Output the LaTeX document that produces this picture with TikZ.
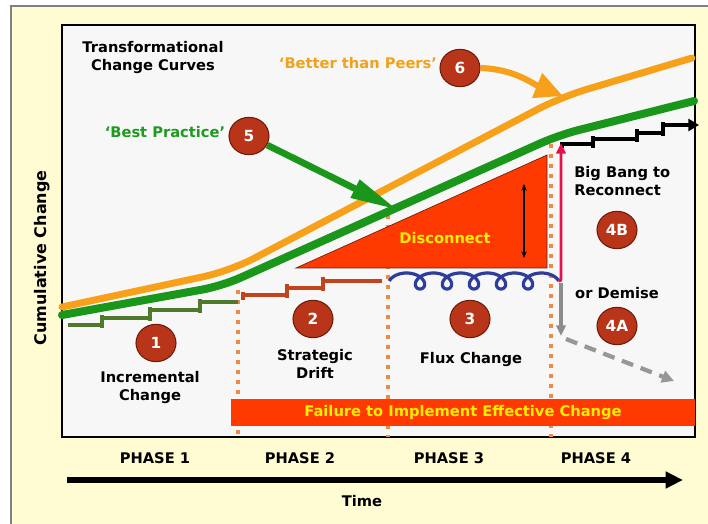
\documentclass[tikz,border=0pt]{standalone}
\usepackage{fontspec}
\setmainfont{DejaVu Sans}
\usetikzlibrary{arrows.meta,shapes.geometric}
\definecolor{bgyellow}{HTML}{FFFBD2}
\definecolor{plotbg}{HTML}{F7F7F8}
\definecolor{orangecurve}{HTML}{F7A11A}
\definecolor{greencurve}{HTML}{1A961A}
\definecolor{olivestep}{HTML}{4F7A2B}
\definecolor{ruststep}{HTML}{C2431C}
\definecolor{phasedot}{HTML}{EE8A45}
\definecolor{redfill}{HTML}{FF3A00}
\definecolor{discyellow}{HTML}{FFEE00}
\definecolor{circfill}{HTML}{B9351A}
\definecolor{circedge}{HTML}{6E1C0A}
\definecolor{coilblue}{HTML}{2E3C9C}
\definecolor{pinkred}{HTML}{E5104B}
\definecolor{grayarrow}{HTML}{8C8C8C}
\definecolor{bestgreen}{HTML}{1E9A1E}
\definecolor{peerorange}{HTML}{F0A21E}
\tikzset{
  lbl/.style={font=\fontsize{11}{13.5}\selectfont\bfseries, align=center, inner sep=0pt},
  numc/.style={ellipse, fill=circfill, draw=circedge, line width=0.8pt, minimum width=30pt, minimum height=28pt, inner sep=0pt, text=white, font=\fontsize{11.5}{13}\selectfont\bfseries},
  stepline/.style={line width=2.3pt},
  phaseline/.style={phasedot, line width=2.6pt, dash pattern=on 3pt off 4.5pt},
}
\begin{document}
\begin{tikzpicture}[x=0.75pt,y=-0.75pt]
\useasboundingbox (0,0) rectangle (708,524);
\fill[white] (0,0) rectangle (708,524);
\fill[bgyellow] (11,6) rectangle (708,524);
\draw[gray, line width=0.8pt] (11,524) -- (11,6) -- (708,6);
% plot frame
\filldraw[fill=plotbg, draw=black, line width=1.9pt] (62,25) rectangle (695,437);
% phase dotted lines
\draw[phaseline] (238,290) -- (238,437);
\draw[phaseline] (388,215) -- (388,437);
\draw[phaseline] (551,144) -- (551,437);
% disconnect triangle
\filldraw[fill=redfill, draw=circedge, line width=0.5pt] (296,268) -- (547,155) -- (547,268) -- cycle;
\node[lbl, text=discyellow] (disc) at (445,238) {Disconnect};
\draw[line width=0.8pt, {Stealth[length=5pt,width=4pt]}-{Stealth[length=5pt,width=4pt]}] (524,184) -- (524,258);
% steps phase 1
\draw[stepline, olivestep] (68,325) -- (102,325) (102,328) -- (102,315) (102,318) -- (150,318)
  (150,321) -- (150,307) (150,310) -- (200,310) (200,313) -- (200,299) (200,302) -- (238,302);
% steps phase 2
\draw[stepline, ruststep] (243,292) -- (243,300) (243,295) -- (287,295) (287,298) -- (287,284)
  (287,288) -- (323,288) (323,291) -- (323,277) (323,281) -- (382,281);
% steps phase 4
\draw[stepline, black] (562,148) -- (562,144) -- (593,144) (593,148) -- (593,136) (593,139) -- (637,139)
  (637,142) -- (637,129) (637,133) -- (663,133) (663,136) -- (663,122);
\draw[stepline, black, -{Triangle[length=8pt,width=9pt]}] (663,125) -- (699,125);
% flux coil
\draw[coilblue, line width=2.4pt] plot[domain=-1.5708:32.987, samples=360, variable=\t, smooth]
  ({406.5 + 4.297*\t + 10.5*sin(\t r)}, {281 - 8*cos(\t r)});
% big bang arrow
\draw[pinkred, line width=2.2pt, -{Triangle[length=8pt,width=7pt]}] (558.5,281) .. controls (561,281) .. (561,275) -- (561,143);
% demise arrows
\draw[grayarrow, line width=2.4pt, -{Triangle[length=8pt,width=7pt]}] (561,283) -- (561,336);
\draw[grayarrow!90, line width=3.2pt, dash pattern=on 9pt off 6pt, -{Triangle[length=9pt,width=9pt]}] (566,339) -- (674,381);
% curves
\draw[orangecurve, line width=5.2pt, line cap=round, rounded corners=20pt] (62,307) -- (230,271) -- (561,97) -- (692,58);
\draw[greencurve, line width=6pt, line cap=round, rounded corners=15pt] (62,315) -- (222,286) -- (559,135) -- (694,101);
% numbered circles
\node[numc] (c1) at (156,343) {1};
\node[numc] (c2) at (313,319) {2};
\node[numc] (c3) at (470,319) {3};
\node[numc] (c4a) at (617,326) {4A};
\node[numc] (c4b) at (617,230) {4B};
\node[numc] (c5) at (249,136) {5};
\node[numc] (c6) at (460,68) {6};
% pointer arrows
\coordinate (t5) at (398,210);
\coordinate (t6) at (563,96);
\draw[greencurve, line width=5pt, -{Triangle[length=36pt,width=14pt]}] (c5) -- (t5);
\draw[orangecurve, line width=4.6pt, -{Triangle[length=21pt,width=19pt]}] (c6.east) to[out=-2,in=158] (t6);
% failure bar
\fill[redfill] (231,399) rectangle (695,426);
\node[lbl, text=discyellow] (fail) at (463,413) {Failure to Implement Effective Change};
% texts
\node[lbl] (title) at (153,58) {Transformational\\Change Curves};
\node[lbl, text=bestgreen] (bp) at (165,132) {‘Best Practice’};
\node[lbl, text=peerorange] (peer) at (358,63) {‘Better than Peers’};
\node[lbl] (inc) at (150,388) {Incremental\\Change};
\node[lbl] (drift) at (315,364) {Strategic\\Drift};
\node[lbl] (flux) at (471,360) {Flux Change};
\node[lbl] (demise) at (617,293) {or Demise};
\node[lbl, align=left, anchor=west] (bang) at (574,181) {Big Bang to\\Reconnect};
\node[lbl] (p1) at (155,458) {PHASE 1};
\node[lbl] (p2) at (300,458) {PHASE 2};
\node[lbl] (p3) at (449,458) {PHASE 3};
\node[lbl] (p4) at (596,458) {PHASE 4};
\node[lbl, rotate=90, font=\fontsize{12}{14}\selectfont\bfseries] (cum) at (42,258) {Cumulative Change};
\node[lbl] (time) at (362,501) {Time};
% time axis
\coordinate (ta) at (67,480);
\coordinate (tb) at (683,480);
\draw[line width=4pt, -{Triangle[length=13pt,width=12pt]}] (ta) -- (tb);
\end{tikzpicture}
\end{document}
